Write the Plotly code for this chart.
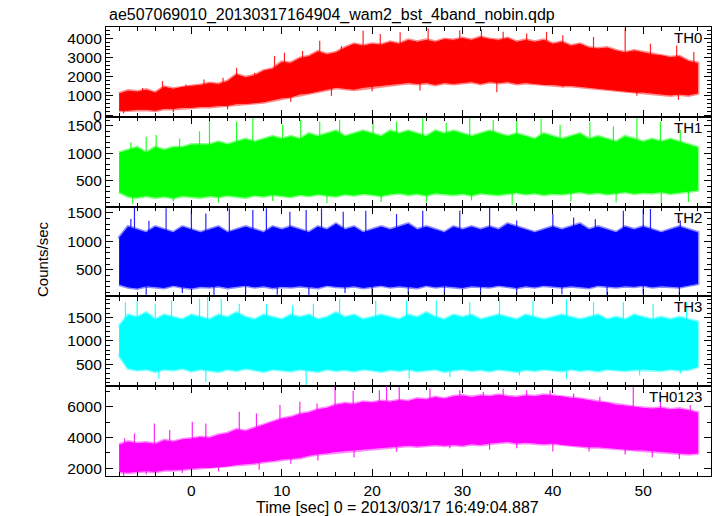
import numpy as np
import plotly.graph_objects as go
from plotly.subplots import make_subplots

# ---------------- data ----------------
title = "ae507069010_20130317164904_wam2_bst_4band_nobin.qdp"
x_title = "Time [sec] 0 = 2013/03/17 16:49:04.887"
y_title = "Counts/sec"
bands = ["TH0", "TH1", "TH2", "TH3", "TH0123"]
colors = ["#ff0000", "#00ff00", "#0000ff", "#00ffff", "#ff00ff"]

# time grid, seconds (-8 ... 56)
time_s = [-8, -7, -6, -5, -4, -3, -2, -1, 0, 1, 2, 3, 4, 5, 6, 7, 8, 9, 10, 11,
          12, 13, 14, 15, 16, 17, 18, 19, 20, 21, 22, 23, 24, 25, 26, 27, 28, 29, 30, 31,
          32, 33, 34, 35, 36, 37, 38, 39, 40, 41, 42, 43, 44, 45, 46, 47, 48, 49, 50, 51,
          52, 53, 54, 55, 56]

# upper / lower envelope of the dense part of each light curve (counts/sec)
th0_hi = [1100, 1250, 1200, 1300, 1150, 1450, 1350, 1450, 1500, 1550,
          1650, 1600, 1750, 2100, 1950, 2050, 2300, 2400, 2750, 2700,
          2950, 3050, 3300, 3150, 3250, 3500, 3700, 3600, 3700, 3650,
          3800, 3700, 3900, 3800, 3900, 3800, 3950, 3900, 4000, 3900,
          4050, 3950, 3900, 4000, 3800, 3900, 3800, 3900, 3700, 3800,
          3600, 3700, 3500, 3450, 3500, 3350, 3250, 3350, 3250, 3150,
          3100, 3000, 3050, 2800, 2700]
th0_lo = [250, 250, 300, 300, 250, 350, 350, 400, 400, 450,
          450, 500, 500, 600, 600, 650, 700, 800, 900, 950,
          1100, 1150, 1250, 1350, 1450, 1400, 1350, 1450, 1500, 1550,
          1600, 1650, 1700, 1650, 1700, 1600, 1700, 1650, 1700, 1750,
          1650, 1750, 1700, 1750, 1650, 1700, 1650, 1600, 1600, 1550,
          1550, 1500, 1450, 1400, 1350, 1300, 1250, 1200, 1200, 1150,
          1100, 1050, 1100, 1050, 1150]

th1_hi = [1000, 1050, 1100, 1000, 1100, 1050, 1100, 1100, 1150, 1150,
          1150, 1200, 1150, 1200, 1250, 1200, 1250, 1300, 1250, 1300,
          1250, 1350, 1300, 1350, 1400, 1300, 1350, 1400, 1350, 1300,
          1400, 1350, 1400, 1350, 1300, 1400, 1350, 1400, 1350, 1300,
          1350, 1400, 1350, 1300, 1350, 1300, 1250, 1350, 1300, 1250,
          1300, 1350, 1250, 1300, 1250, 1200, 1300, 1250, 1200, 1250,
          1200, 1250, 1200, 1150, 1100]
th1_lo = [300, 220, 200, 230, 200, 220, 190, 230, 210, 200,
          230, 210, 240, 220, 200, 240, 220, 250, 230, 210,
          250, 230, 260, 240, 220, 260, 240, 270, 250, 230,
          260, 280, 250, 270, 240, 280, 260, 250, 270, 240,
          280, 260, 250, 270, 290, 260, 280, 250, 270, 260,
          280, 300, 270, 290, 260, 280, 300, 270, 290, 280,
          300, 270, 290, 310, 330]

th2_hi = [1050, 1250, 1200, 1150, 1250, 1200, 1150, 1250, 1200, 1150,
          1200, 1250, 1150, 1200, 1250, 1200, 1150, 1250, 1200, 1250,
          1200, 1150, 1250, 1200, 1300, 1200, 1250, 1150, 1200, 1250,
          1200, 1250, 1300, 1200, 1250, 1200, 1150, 1250, 1200, 1250,
          1200, 1250, 1200, 1300, 1250, 1200, 1150, 1200, 1250, 1200,
          1250, 1300, 1200, 1250, 1200, 1150, 1250, 1200, 1250, 1200,
          1150, 1200, 1250, 1200, 1150]
th2_lo = [250, 200, 180, 220, 200, 190, 230, 200, 180, 210,
          200, 220, 190, 210, 230, 200, 220, 190, 210, 200,
          220, 200, 190, 230, 210, 200, 220, 190, 210, 230,
          200, 220, 210, 190, 230, 200, 220, 210, 190, 220,
          210, 200, 230, 210, 190, 220, 200, 230, 210, 200,
          220, 200, 190, 230, 210, 200, 220, 210, 230, 200,
          220, 210, 200, 230, 260]

th3_hi = [1300, 1550, 1500, 1600, 1450, 1550, 1500, 1450, 1550, 1500,
          1450, 1550, 1500, 1600, 1500, 1450, 1550, 1500, 1450, 1550,
          1500, 1550, 1450, 1500, 1600, 1500, 1550, 1450, 1500, 1550,
          1500, 1450, 1550, 1500, 1600, 1500, 1450, 1550, 1500, 1550,
          1450, 1500, 1550, 1500, 1450, 1550, 1500, 1450, 1500, 1550,
          1500, 1450, 1500, 1550, 1450, 1500, 1450, 1550, 1500, 1450,
          1500, 1450, 1500, 1450, 1400]
th3_lo = [700, 420, 380, 400, 350, 400, 380, 420, 360, 400,
          380, 350, 400, 370, 420, 380, 350, 400, 380, 360,
          400, 380, 350, 400, 370, 390, 360, 400, 380, 350,
          390, 370, 400, 360, 380, 400, 350, 380, 400, 370,
          390, 360, 400, 380, 350, 390, 370, 400, 380, 360,
          400, 370, 390, 360, 400, 380, 370, 390, 400, 380,
          370, 400, 380, 390, 450]

th0123_hi = [3500, 3700, 3600, 3650, 3550, 3800, 3700, 3850, 3900, 4000,
             3950, 4150, 4250, 4500, 4400, 4600, 4850, 5000, 5200, 5300,
             5500, 5600, 5800, 5900, 6100, 6200, 6150, 6300, 6250, 6350,
             6300, 6400, 6350, 6500, 6450, 6600, 6500, 6650, 6700, 6600,
             6700, 6650, 6750, 6650, 6600, 6700, 6650, 6750, 6700, 6650,
             6550, 6500, 6400, 6300, 6250, 6100, 6050, 5950, 5900, 5850,
             5900, 5800, 5850, 5750, 5600]
th0123_lo = [1800, 1750, 1800, 1850, 1800, 1900, 1900, 1950, 2000, 2050,
             2050, 2100, 2150, 2250, 2300, 2350, 2450, 2500, 2600, 2650,
             2700, 2850, 2950, 3000, 3100, 3150, 3200, 3250, 3300, 3350,
             3400, 3450, 3500, 3450, 3500, 3550, 3500, 3550, 3500, 3600,
             3550, 3650, 3700, 3750, 3650, 3700, 3650, 3600, 3650, 3550,
             3500, 3450, 3400, 3400, 3350, 3300, 3250, 3200, 3200, 3150,
             3100, 3050, 3000, 2950, 3000]

# isolated spikes sticking out of the dense band: times (s) and values (counts/sec)
th0_up_t = [-5.4, -3.2, -0.6, 1.4, 3.5, 5.0, 7.0, 9.2, 10.3, 12.3, 14.2, 16.6, 19.0, 20.9,
            23.1, 26.2, 29.7, 32.1, 34.5, 37.1, 39.3, 41.1, 44.5, 48.0, 50.8, 53.7, 55.6]
th0_up_v = [1420, 1770, 1600, 1860, 1950, 2470, 2210, 3090, 3260, 3350, 3880, 3610, 4400, 4230,
            4320, 4520, 4430, 4470, 4350, 4260, 4350, 4170, 4080, 4520, 3730, 3640, 3290]
th0_dn_t = [-7.5, -2.0, 4.0, 11.0, 15.5, 20.0, 25.3, 33.8, 41.1, 49.3, 53.9, 55.6]
th0_dn_v = [100, 150, 300, 700, 1000, 1250, 1280, 1190, 1450, 1010, 790, 1190]

th1_up_t = [-6.7, -5.0, -3.9, -1.3, 0.9, 2.0, 5.0, 6.8, 10.1, 12.1, 14.2, 16.4, 20.1, 22.7,
            25.6, 28.2, 30.8, 33.4, 36.0, 38.7, 40.8, 44.1, 46.7, 49.3, 51.9, 54.1]
th1_up_v = [1200, 1300, 1330, 1270, 1400, 1610, 1580, 1640, 1520, 1610, 1580, 1610, 1610, 1580,
            1640, 1550, 1640, 1610, 1640, 1630, 1520, 1580, 1490, 1640, 1580, 1430]
th1_dn_t = [-6.5, -2.0, 3.0, 9.0, 15.0, 21.0, 26.0, 31.0, 35.5, 42.0, 47.0, 52.0, 55.0]
th1_dn_v = [80, 120, 100, 130, 90, 110, 100, 140, 60, 120, 100, 90, 110]

th2_up_t = [-6.7, -6.3, -4.7, -2.8, 0.0, 1.6, 4.2, 6.8, 8.3, 10.9, 12.7, 14.4, 16.8, 19.3,
            22.7, 25.6, 29.7, 33.0, 36.0, 40.0, 42.3, 44.7, 47.8, 50.0, 50.8, 54.1]
th2_up_v = [1395, 1600, 1360, 1580, 1550, 1490, 1580, 1550, 1580, 1520, 1550, 1580, 1520, 1540,
            1480, 1540, 1540, 1600, 1365, 1480, 1420, 1390, 1540, 1570, 1570, 1365]
th2_dn_t = [-5.0, -1.0, 2.5, 6.0, 9.5, 13.0, 17.0, 20.0, 24.0, 28.0, 32.0, 36.0, 41.0, 46.0,
            50.0, 54.0]
th2_dn_v = [60, 90, 40, 80, 60, 50, 90, 40, 70, 60, 80, 50, 70, 60, 80, 70]

th3_up_t = [-7.3, -6.0, -4.0, -2.2, 0.9, 1.8, 3.3, 5.3, 8.3, 11.2, 13.5, 16.4, 20.4, 23.8,
            27.1, 30.8, 34.1, 37.8, 41.5, 44.5, 47.8, 51.1, 54.8]
th3_up_v = [1835, 1870, 1800, 1870, 1905, 1940, 1905, 1800, 1800, 1765, 1800, 1905, 1870, 1870,
            1870, 1835, 1905, 1870, 1905, 1835, 1835, 1800, 1835]
th3_dn_t = [-3.6, 1.6, 12.7, 24.1, 28.6, 36.3, 41.5, 49.6, 54.1]
th3_dn_v = [190, 120, 50, 190, 225, 260, 190, 260, 300]

th0123_up_t = [-7.4, -6.3, -4.1, -2.4, 0.1, 1.6, 5.3, 7.2, 9.8, 12.0, 13.9, 15.9, 17.9, 20.8,
               21.6, 23.0, 26.4, 29.7, 32.3, 34.5, 37.1, 39.7, 42.3, 45.2, 48.9, 51.9, 55.2]
th0123_up_v = [3950, 4270, 4920, 4490, 5030, 4920, 5680, 5570, 6110, 6330, 6220, 7340, 7050, 7080,
               7340, 7300, 7190, 7080, 6970, 7190, 7080, 7080, 6870, 6650, 7300, 6320, 6110]
th0123_dn_t = [-7.5, -5.0, -1.0, 3.0, 7.5, 11.0, 14.0, 18.0, 22.7, 28.6, 33.0, 36.0, 40.0, 44.0,
               48.0, 51.0, 54.0]
th0123_dn_v = [1500, 1600, 1700, 1800, 1900, 2300, 2500, 2700, 3080, 3300, 3200, 3300, 3100,
               3100, 2900, 2700, 2600]

# axis settings
x_range = [-9.45, 57.5]
y_ranges = [[-90, 4600], [27, 1664], [32, 1611], [28, 1957], [1500, 7340]]
y_dticks = [1000, 500, 500, 500, 2000]
y_minor = [200, 100, 100, 100, 1000]

his = [th0_hi, th1_hi, th2_hi, th3_hi, th0123_hi]
los = [th0_lo, th1_lo, th2_lo, th3_lo, th0123_lo]
spikes = [
    (th0_up_t + th0_dn_t, th0_up_v + th0_dn_v),
    (th1_up_t + th1_dn_t, th1_up_v + th1_dn_v),
    (th2_up_t + th2_dn_t, th2_up_v + th2_dn_v),
    (th3_up_t + th3_dn_t, th3_up_v + th3_dn_v),
    (th0123_up_t + th0123_dn_t, th0123_up_v + th0123_dn_v),
]

# ---------------- figure ----------------
W, H = 717, 516
L, R, T, B = 106, 6, 27, 40
plot_h = H - T - B

fig = make_subplots(rows=5, cols=1, shared_xaxes=True, vertical_spacing=0)

for i in range(5):
    xs = time_s + time_s[::-1]
    ys = his[i] + los[i][::-1]
    # soft fringe around the dense band (anti-aliased noise at its edges)
    fig.add_trace(go.Scatter(x=xs, y=ys, mode="lines",
                             line=dict(color=colors[i], width=4),
                             opacity=0.45, hoverinfo="skip", showlegend=False),
                  row=i + 1, col=1)
    # dense band
    fig.add_trace(go.Scatter(x=xs, y=ys, mode="lines", fill="toself",
                             fillcolor=colors[i],
                             line=dict(color=colors[i], width=1),
                             hoverinfo="skip", showlegend=False),
                  row=i + 1, col=1)
    # spikes: vertical strokes from the band centre to the spike value
    mid = (np.array(his[i]) + np.array(los[i])) / 2.0
    st, sv = spikes[i]
    sx, sy = [], []
    for t, v in zip(st, sv):
        base = float(np.interp(t, time_s, mid))
        sx += [t, t, None]
        sy += [base, v, None]
    fig.add_trace(go.Scatter(x=sx, y=sy, mode="lines",
                             line=dict(color=colors[i], width=1.2),
                             opacity=0.85, hoverinfo="skip", showlegend=False),
                  row=i + 1, col=1)

tick_font = dict(family="Liberation Sans, Arial, sans-serif", size=15.5, color="black")
text_font = dict(family="Liberation Sans, Arial, sans-serif", size=16, color="black")
label_font = dict(family="Liberation Sans, Arial, sans-serif", size=15, color="black")

for i in range(5):
    fig.update_xaxes(range=x_range, showline=True, linecolor="black", linewidth=1.2,
                     mirror="allticks", ticks="inside", ticklen=7, tickwidth=1,
                     tickcolor="black", dtick=10, tick0=0,
                     minor=dict(ticks="inside", ticklen=4, dtick=2, tick0=0,
                                tickcolor="black", showgrid=False),
                     showgrid=False, zeroline=False, tickfont=tick_font,
                     showticklabels=(i == 4), row=i + 1, col=1)
    fig.update_yaxes(range=y_ranges[i], showline=True, linecolor="black", linewidth=1.2,
                     mirror="allticks", ticks="inside", ticklen=7, tickwidth=1,
                     tickcolor="black", dtick=y_dticks[i], tick0=0,
                     minor=dict(ticks="inside", ticklen=4, dtick=y_minor[i], tick0=0,
                                tickcolor="black", showgrid=False),
                     showgrid=False, zeroline=False, tickfont=tick_font,
                     row=i + 1, col=1)


def py(ypx):
    return (H - B - ypx) / plot_h


def px(xpx):
    return (xpx - L) / (W - L - R)


annotations = [
    dict(text=title, x=px(107), y=py(15), xanchor="left", yanchor="middle", font=text_font),
    dict(text=x_title, x=px(397), y=py(507), xanchor="center", yanchor="middle",
         font=text_font),
    dict(text=y_title, x=px(42), y=py(259), xanchor="center", yanchor="middle",
         textangle=-90, font=label_font),
]
panel_h = plot_h / 5
for i, name in enumerate(bands):
    annotations.append(dict(text=name, x=px(704), y=py(T + i * panel_h + 10.5),
                            xanchor="right", yanchor="middle", font=label_font))

for a in annotations:
    a.update(xref="paper", yref="paper", showarrow=False)

fig.update_layout(width=W, height=H, margin=dict(l=L, r=R, t=T, b=B),
                  paper_bgcolor="white", plot_bgcolor="white",
                  annotations=annotations, font=tick_font, showlegend=False)

fig.write_html("out.html", config={"displayModeBar": False},
               post_script="document.body.style.margin='0px';document.body.style.padding='0px';")
